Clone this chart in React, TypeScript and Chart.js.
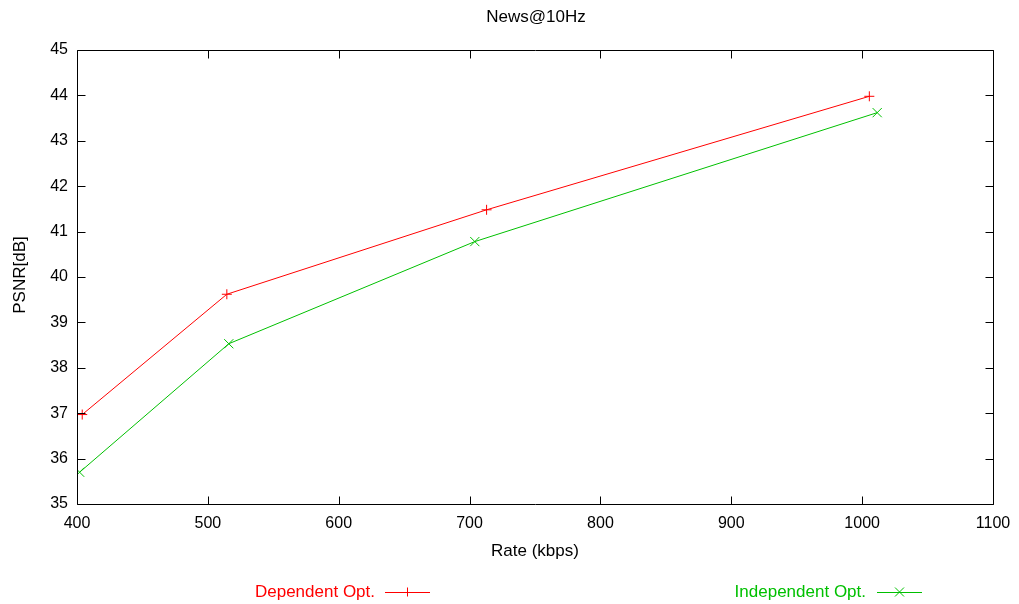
import React, { useEffect, useRef } from "react";
import { Chart, registerables } from "chart.js";

Chart.register(...registerables);

const TITLE = "News@10Hz";
const X_LABEL = "Rate (kbps)";
const Y_LABEL = "PSNR[dB]";

const depName = "Dependent Opt.";
const depRate = [404, 514.5, 713, 1005.5];
const depPsnr = [36.97, 39.62, 41.48, 43.98];

const indName = "Independent Opt.";
const indRate = [402, 516, 704, 1011.5];
const indPsnr = [35.7, 38.53, 40.78, 43.62];

const xTicks = [400, 500, 600, 700, 800, 900, 1000, 1100];
const yTicks = [35, 36, 37, 38, 39, 40, 41, 42, 43, 44, 45];

const RED = "#ff0000";
const GREEN = "#00c000";
const FONT = "'Liberation Sans', Arial, Helvetica, sans-serif";

const gnuplotPlugin = {
  id: "gnuplotDecor",
  afterDraw(chart: any) {
    const ctx = chart.ctx;
    const { left, right, top, bottom } = chart.chartArea;
    const xs = chart.scales.x;
    const ys = chart.scales.y;
    ctx.save();
    ctx.strokeStyle = "#000";
    ctx.lineWidth = 1;
    const L = Math.round(left) + 0.5;
    const R = Math.round(right) + 0.5;
    const T = Math.round(top) + 0.5;
    const B = Math.round(bottom) + 0.5;
    ctx.beginPath();
    ctx.rect(L, T, R - L, B - T);
    ctx.stroke();
    const tl = 8;
    ctx.beginPath();
    xTicks.forEach((v) => {
      const px = Math.round(xs.getPixelForValue(v)) + 0.5;
      ctx.moveTo(px, B);
      ctx.lineTo(px, B - tl);
      ctx.moveTo(px, T);
      ctx.lineTo(px, T + tl);
    });
    yTicks.forEach((v) => {
      const py = Math.round(ys.getPixelForValue(v)) + 0.5;
      ctx.moveTo(L, py);
      ctx.lineTo(L + tl, py);
      ctx.moveTo(R, py);
      ctx.lineTo(R - tl, py);
    });
    ctx.stroke();

    ctx.fillStyle = "#000";
    ctx.font = `17px ${FONT}`;
    ctx.textAlign = "center";
    ctx.textBaseline = "middle";
    ctx.fillText(TITLE, 536, 17);
    ctx.fillText(X_LABEL, 535, 551);
    ctx.save();
    ctx.translate(20, 275);
    ctx.rotate(-Math.PI / 2);
    ctx.fillText(Y_LABEL, 0, 0);
    ctx.restore();

    const drawKey = (label: string, color: string, textRight: number, lineX0: number, style: string) => {
      const y = 592;
      ctx.fillStyle = color;
      ctx.strokeStyle = color;
      ctx.textAlign = "right";
      ctx.fillText(label, textRight, y);
      ctx.beginPath();
      ctx.moveTo(lineX0, y + 0.5);
      ctx.lineTo(lineX0 + 45, y + 0.5);
      const cx = lineX0 + 22.5;
      const r = 4.5;
      if (style === "plus") {
        ctx.moveTo(cx, y - r);
        ctx.lineTo(cx, y + r);
      } else {
        ctx.moveTo(cx - r, y - r);
        ctx.lineTo(cx + r, y + r);
        ctx.moveTo(cx - r, y + r);
        ctx.lineTo(cx + r, y - r);
      }
      ctx.stroke();
    };
    drawKey(depName, RED, 375, 385, "plus");
    drawKey(indName, GREEN, 866, 877, "x");
    ctx.restore();
  },
};

export default function App() {
  const ref = useRef<HTMLCanvasElement | null>(null);
  useEffect(() => {
    if (!ref.current) return;
    const chart = new Chart(ref.current, {
      type: "scatter",
      data: {
        datasets: [
          {
            label: depName,
            data: depRate.map((x, i) => ({ x, y: depPsnr[i] })),
            showLine: true,
            borderColor: RED,
            backgroundColor: RED,
            borderWidth: 1,
            pointStyle: "cross",
            pointRadius: 5,
            pointBorderWidth: 1,
            pointBorderColor: RED,
          },
          {
            label: indName,
            data: indRate.map((x, i) => ({ x, y: indPsnr[i] })),
            showLine: true,
            borderColor: GREEN,
            backgroundColor: GREEN,
            borderWidth: 1,
            pointStyle: "crossRot",
            pointRadius: 6.5,
            pointBorderWidth: 1,
            pointBorderColor: GREEN,
          },
        ],
      },
      options: {
        responsive: false,
        animation: false,
        layout: { padding: { left: 0, right: 26, top: 50, bottom: 0 } },
        plugins: {
          legend: { display: false },
          title: { display: false },
          tooltip: { enabled: false },
        },
        scales: {
          x: {
            type: "linear",
            min: 400,
            max: 1100,
            afterFit: (s: any) => {
              s.height = 100;
              s.paddingLeft = 0;
              s.paddingRight = 0;
            },
            afterBuildTicks: (s: any) => {
              s.ticks = xTicks.map((v) => ({ value: v }));
            },
            grid: { display: false, drawTicks: false },
            border: { display: false },
            ticks: {
              padding: 10,
              color: "#000",
              font: { family: FONT, size: 16 },
              maxRotation: 0,
              autoSkip: false,
              callback: (v: any) => String(v),
            },
          },
          y: {
            type: "linear",
            min: 35,
            max: 45,
            afterFit: (s: any) => {
              s.width = 77;
              s.paddingTop = 0;
              s.paddingBottom = 0;
            },
            afterBuildTicks: (s: any) => {
              s.ticks = yTicks.map((v) => ({ value: v }));
            },
            grid: { display: false, drawTicks: false },
            border: { display: false },
            ticks: {
              padding: 9,
              color: "#000",
              font: { family: FONT, size: 16 },
              autoSkip: false,
              callback: (v: any) => String(v),
            },
          },
        },
      },
      plugins: [gnuplotPlugin],
    });
    return () => chart.destroy();
  }, []);
  return (
    <div style={{ position: "absolute", left: 0, top: 0, width: 1019, height: 604, background: "#fff" }}>
      <canvas ref={ref} width={1019} height={604} />
    </div>
  );
}
